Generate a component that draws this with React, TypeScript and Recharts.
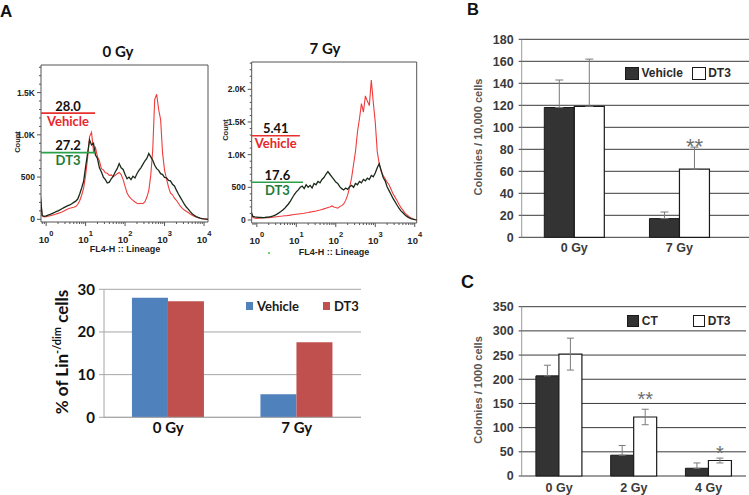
import React from 'react';
import {
  LineChart,
  Line,
  XAxis,
  YAxis,
  ReferenceArea,
  ReferenceLine,
  ReferenceDot,
  BarChart,
  Bar,
  CartesianGrid,
  ErrorBar,
  Legend,
  LabelList,
} from 'recharts';

const CALIBRI = 'Lato, "Open Sans", sans-serif';
const ARIAL = '"Liberation Sans", Arial, sans-serif';

// ---- Panel A: FL4-H (Lineage) histograms, log10 bins ----
const BINS = [
  -0.15, -0.1, -0.05, 0, 0.05, 0.1, 0.15, 0.2, 0.25, 0.3,
  0.35, 0.4, 0.45, 0.5, 0.55, 0.6, 0.65, 0.7, 0.75, 0.8,
  0.85, 0.9, 0.95, 1, 1.05, 1.1, 1.15, 1.2, 1.25, 1.3,
  1.35, 1.4, 1.45, 1.5, 1.55, 1.6, 1.65, 1.7, 1.75, 1.8,
  1.85, 1.9, 1.95, 2, 2.05, 2.1, 2.15, 2.2, 2.25, 2.3,
  2.35, 2.4, 2.45, 2.5, 2.55, 2.6, 2.65, 2.7, 2.75, 2.8,
  2.85, 2.9, 2.95, 3, 3.05, 3.1, 3.15, 3.2, 3.25, 3.3,
  3.35, 3.4, 3.45, 3.5, 3.55, 3.6, 3.65, 3.7, 3.75, 3.8,
  3.85, 3.9, 3.95, 4, 4.05, 4.1,
];

const VEHICLE_0GY = [
  280, 40, 28, 32, 36, 42, 48, 55, 62, 70,
  78, 86, 98, 110, 122, 130, 136, 142, 150, 175,
  220, 285, 370, 520, 720, 980, 1030, 800, 850, 740,
  690, 600, 585, 550, 545, 520, 525, 505, 520, 540,
  555, 530, 470, 390, 310, 270, 245, 225, 205, 190,
  185, 190, 185, 205, 260, 340, 520, 820, 1420, 1480,
  1300, 1180, 780, 580, 480, 380, 310, 290, 250, 225,
  190, 155, 130, 110, 95, 80, 62, 48, 36, 26,
  18, 12, 8, 4, 2, 0,
];

const DT3_0GY = [
  300, 45, 35, 40, 50, 58, 68, 78, 90, 100,
  112, 125, 138, 150, 162, 170, 185, 200, 215, 240,
  300, 370, 450, 620, 780, 940, 880, 900, 760, 720,
  610, 560, 500, 470, 430, 440, 480, 510, 560, 600,
  660, 610, 590, 530, 480, 500, 470, 510, 490, 540,
  580, 610, 650, 690, 720, 780, 740, 700, 640, 600,
  580, 540, 530, 495, 490, 460, 455, 415, 395, 345,
  300, 260, 220, 180, 145, 120, 90, 65, 48, 32,
  22, 14, 8, 4, 2, 0,
];

const VEHICLE_7GY = [
  130, 40, 28, 25, 27, 30, 32, 34, 35, 36,
  38, 42, 46, 50, 54, 58, 60, 64, 66, 70,
  75, 80, 84, 88, 92, 96, 100, 104, 110, 114,
  120, 126, 132, 138, 146, 152, 160, 170, 180, 190,
  198, 215, 200, 190, 180, 205, 220, 245, 300, 380,
  500, 640, 850, 1050, 1350, 1550, 1780, 1650, 1900, 1820,
  1750, 2140, 1800, 1500, 1050, 860, 740, 680, 630, 580,
  540, 470, 400, 350, 300, 240, 190, 150, 110, 80,
  55, 35, 20, 8, 2, 0,
];

const DT3_7GY = [
  130, 55, 48, 45, 40, 38, 36, 38, 42, 46,
  52, 60, 72, 87, 105, 125, 148, 175, 210, 245,
  290, 340, 390, 430, 460, 500, 520, 480, 540, 500,
  530, 490, 560, 540, 590, 570, 620, 650, 700, 740,
  700, 660, 620, 580, 560, 510, 480, 460, 490, 470,
  510, 530, 500, 560, 540, 590, 570, 620, 600, 640,
  620, 680, 660, 720, 800, 860, 760, 650, 600, 510,
  450, 390, 330, 280, 230, 180, 140, 110, 80, 55,
  36, 22, 12, 5, 2, 0,
];

const X_MIN = -0.13;
const DECADES = [0, 1, 2, 3, 4];
const Y_MAJOR_0GY = [0, 500, 1000, 1500];
const Y_LABELS_0GY = ['0', '500', '1.0K', '1.5K'];
const Y_MAJOR_7GY = [0, 500, 1000, 1500, 2000];
const Y_LABELS_7GY = ['0', '500', '1.0K', '1.5K', '2.0K'];

const GROUPS = ['Vehicle', 'DT3'];
const GATE_PCT_0GY = ['28.0', '27.2'];
const GATE_Y_0GY = [1257, 790];
const GATE_END_0GY = [1.24, 1.24];
const GATE_PCT_7GY = ['5.41', '17.6'];
const GATE_Y_7GY = [1290, 577];
const GATE_END_7GY = [1.09, 1.17];

// ---- Panel A: Lin-/dim summary ----
const DOSES_A = ['0 Gy', '7 Gy'];
const LIN_VEHICLE = [28.0, 5.41];
const LIN_DT3 = [27.2, 17.6];
const TICKS_A = [0, 10, 20, 30];

// ---- Panel B ----
const DOSES_B = ['0 Gy', '7 Gy'];
const B_VEHICLE = [118, 17];
const B_VEHICLE_ERR = [25, 6];
const B_DT3 = [119, 62];
const B_DT3_ERR = [43, 20];
const B_SIG = ['', '**'];
const B_SIG_AT = [0, 84];
const TICKS_B = [0, 20, 40, 60, 80, 100, 120, 140, 160, 180];

// ---- Panel C ----
const DOSES_C = ['0 Gy', '2 Gy', '4 Gy'];
const C_CT = [207, 43, 16];
const C_CT_ERR = [22, 20, 11];
const C_DT3 = [252, 122, 32];
const C_DT3_ERR = [33, 16, 5];
const C_SIG = ['', '**', '*'];
const C_SIG_AT = [0, 163, 50];
const TICKS_C = [0, 50, 100, 150, 200, 250, 300, 350];

// log axis: decades plus the 2..9 minors
const X_TICKS: number[] = [];
for (let d = -1; d < 4; d++) {
  for (let k = 1; k < 10; k++) {
    const v = d + Math.log10(k);
    if (v >= X_MIN) X_TICKS.push(v);
  }
}
X_TICKS.push(4);

function countTicks(max: number) {
  const out: number[] = [];
  for (let v = 0; v <= max; v += 100) out.push(v);
  return out;
}

function HistYTick(props: any) {
  const { x, y, payload, majors, labels } = props;
  const i = majors.indexOf(payload.value);
  return (
    <g>
      <line x1={x} x2={x - (i >= 0 ? 4 : 2)} y1={y} y2={y} stroke='#555' />
      {i >= 0 && (
        <text x={x - 6} y={y + 3} textAnchor='end' fontFamily={ARIAL} fontSize={8.5} fontWeight={700} fill='#222'>
          {labels[i]}
        </text>
      )}
    </g>
  );
}

function HistXTick(props: any) {
  const { x, y, payload } = props;
  const d = DECADES.indexOf(payload.value);
  return (
    <g>
      <line x1={x} x2={x} y1={y} y2={y + (d >= 0 ? 4 : 2)} stroke='#555' />
      {d >= 0 && (
        <text x={x} y={y + 21} textAnchor='middle' fontFamily={ARIAL} fontWeight={700} fill='#222'>
          <tspan fontSize={9.5}>10</tspan>
          <tspan fontSize={7.5} dy={-7}>{DECADES[d]}</tspan>
        </text>
      )}
    </g>
  );
}

function GateText(props: any) {
  const { cx, cy, pct, name, color } = props;
  return (
    <g fontFamily={CALIBRI} fontWeight={700} fontSize={13} textAnchor='middle'>
      <text x={cx} y={cy - 2.5} fill='#111'>{pct}</text>
      <text x={cx} y={cy + 12.5} fill={color}>{name}</text>
    </g>
  );
}

const GATE_LINE = ['#e8312f', '#2aa24a'];
const GATE_TEXT = ['#e8262b', '#1e7b3a'];

function FlowHistogram(props: any) {
  const { left, top, width, height, margin, vehicle, dt3, xMax, yDomain, yMajors, yLabels, gatePct, gateY, gateEnd } = props;
  const rows = BINS.map((x, i) => ({ x, vehicle: vehicle[i], dt3: dt3[i] }));
  return (
    <div style={{ position: 'absolute', left, top }}>
      <LineChart width={width} height={height} data={rows} margin={margin}>
        <XAxis
          type='number'
          dataKey='x'
          domain={[X_MIN, xMax]}
          allowDataOverflow
          ticks={X_TICKS}
          interval={0}
          tickSize={0}
          tickMargin={0}
          axisLine={false}
          height={30}
          tick={<HistXTick />}
        />
        <YAxis
          type='number'
          domain={yDomain}
          allowDataOverflow
          ticks={countTicks(yDomain[1])}
          interval={0}
          tickSize={0}
          tickMargin={0}
          axisLine={false}
          width={30}
          tick={<HistYTick majors={yMajors} labels={yLabels} />}
        />
        <ReferenceArea x1={X_MIN} x2={xMax} y1={yDomain[0]} y2={yDomain[1]} fill='none' stroke='#555' ifOverflow='visible' />
        <Line type='linear' dataKey='vehicle' stroke='#f03c3c' strokeWidth={1.1} dot={false} isAnimationActive={false} />
        <Line type='linear' dataKey='dt3' stroke='#1a2a1a' strokeWidth={1.3} dot={false} isAnimationActive={false} />
        {GROUPS.map((g, i) => (
          <ReferenceLine
            key={'gl' + g}
            segment={[{ x: X_MIN, y: gateY[i] }, { x: gateEnd[i], y: gateY[i] }]}
            stroke={GATE_LINE[i]}
            strokeWidth={1.6}
          />
        ))}
        {GROUPS.map((g, i) => (
          <ReferenceDot
            key={'gt' + g}
            x={(X_MIN + gateEnd[i]) / 2}
            y={gateY[i]}
            r={0}
            shape={(p: any) => <GateText cx={p.cx} cy={p.cy} pct={gatePct[i]} name={g} color={GATE_TEXT[i]} />}
          />
        ))}
      </LineChart>
    </div>
  );
}

function SwatchLegend(props: any) {
  const { items, itemWidth, swatchW, swatchH, gap, font, fontSize, color } = props;
  return (
    <div style={{ display: 'flex', alignItems: 'center', fontFamily: font, fontSize, fontWeight: 700, color, lineHeight: 1, whiteSpace: 'nowrap' }}>
      {items.map((it: any) => (
        <div key={it.label} style={{ display: 'flex', alignItems: 'center', width: itemWidth }}>
          <span
            style={{
              display: 'inline-block',
              width: swatchW,
              height: swatchH,
              background: it.fill,
              border: it.border ? `1px solid ${it.border}` : 'none',
              boxSizing: 'border-box',
              marginRight: gap,
            }}
          />
          <span>{it.label}</span>
        </div>
      ))}
    </div>
  );
}

function StarLabel(props: any) {
  const { index, values, sigs, sigAt, fontSize } = props;
  const vb = props.viewBox && props.viewBox.width != null ? props.viewBox : props;
  const s = sigs[index];
  if (!s) return null;
  const perUnit = vb.height / values[index];
  const bottom = vb.y + vb.height - sigAt[index] * perUnit;
  return (
    <text x={vb.x + vb.width / 2} y={bottom + 0.42 * fontSize} textAnchor='middle' fontFamily={ARIAL} fontSize={fontSize} fill='#6e6e6e'>
      {s}
    </text>
  );
}

const BW_TICK = { fontFamily: ARIAL, fontSize: 12.5, fontWeight: 700, fill: '#3a3a3a' };

function LinSummary() {
  const rows = DOSES_A.map((dose, i) => ({ dose, vehicle: LIN_VEHICLE[i], dt3: LIN_DT3[i] }));
  const tick = { fontFamily: CALIBRI, fontSize: 15, fontWeight: 700, fill: '#111' };
  return (
    <div style={{ position: 'absolute', left: 0, top: 270 }}>
      <BarChart width={370} height={175} data={rows} margin={{ top: 19.3, right: 9, bottom: 2.7, left: 64 }} barCategoryGap='21.75%' barGap={0}>
        <CartesianGrid vertical={false} stroke='#a6a6a6' />
        <XAxis dataKey='dose' height={25} axisLine={{ stroke: '#a6a6a6' }} tickLine={false} tickSize={0} tickMargin={5} tick={tick} />
        <YAxis width={40} domain={[0, 30]} ticks={TICKS_A} interval={0} axisLine={{ stroke: '#a6a6a6' }} tickLine={{ stroke: '#a6a6a6' }} tickSize={5} tickMargin={4} tick={tick} />
        <Bar dataKey='vehicle' fill='#4f81bd' isAnimationActive={false} />
        <Bar dataKey='dt3' fill='#c0504d' isAnimationActive={false} />
        <Legend
          layout='horizontal'
          verticalAlign='middle'
          align='center'
          wrapperStyle={{ left: 246, top: 29.5, width: 'auto' }}
          content={() => (
            <SwatchLegend
              items={[{ label: 'Vehicle', fill: '#4f81bd' }, { label: 'DT3', fill: '#c0504d' }]}
              itemWidth={77}
              swatchW={7}
              swatchH={8}
              gap={4}
              font={CALIBRI}
              fontSize={13}
              color='#1a1a1a'
            />
          )}
        />
      </BarChart>
    </div>
  );
}

function ColonyChart(props: any) {
  const { left, top, width, height, margin, doses, ctl, ctlErr, dt3, dt3Err, ctlName, sigs, sigAt, yMax, ticks, gap, padRight, xHeight, tickMargin, errW, lowerDt3, legendPos, swatch, itemWidth, starSize, ctlOneSided } = props;
  const rows = doses.map((dose: string, i: number) => ({
    dose,
    ctl: ctl[i],
    dt3: dt3[i],
    ctlErr: ctlOneSided ? [0, ctlErr[i]] : ctlErr[i],
    dt3Err: lowerDt3 ? dt3Err[i] : [0, dt3Err[i]],
    sig: sigs[i],
  }));
  return (
    <div style={{ position: 'absolute', left, top }}>
      <BarChart width={width} height={height} data={rows} margin={margin} barCategoryGap={gap} barGap={0}>
        <CartesianGrid vertical={false} stroke='#3a3a3a' />
        <XAxis dataKey='dose' height={xHeight} padding={{ left: 0, right: padRight }} axisLine={false} tickLine={false} tickSize={0} tickMargin={tickMargin} tick={BW_TICK} />
        <YAxis width={40} domain={[0, yMax]} ticks={ticks} interval={0} axisLine={{ stroke: '#999' }} tickLine={{ stroke: '#3a3a3a' }} tickSize={3} tickMargin={5} tick={BW_TICK} />
        <Bar dataKey='ctl' fill='#333' stroke='#1a1a1a' isAnimationActive={false}>
          <ErrorBar dataKey='ctlErr' width={errW} stroke='#7a7a7a' strokeWidth={1} direction='y' />
        </Bar>
        <Bar dataKey='dt3' fill='#fff' stroke='#1a1a1a' strokeWidth={1.2} isAnimationActive={false}>
          <ErrorBar dataKey='dt3Err' width={errW} stroke='#7a7a7a' strokeWidth={1} direction='y' />
          <LabelList dataKey='sig' content={<StarLabel values={dt3} sigs={sigs} sigAt={sigAt} fontSize={starSize} />} />
        </Bar>
        <Legend
          layout='horizontal'
          verticalAlign='middle'
          align='center'
          wrapperStyle={{ left: legendPos[0], top: legendPos[1], width: 'auto' }}
          content={() => (
            <SwatchLegend
              items={[
                { label: ctlName, fill: '#333', border: '#1a1a1a' },
                { label: 'DT3', fill: '#fff', border: '#1a1a1a' },
              ]}
              itemWidth={itemWidth}
              swatchW={swatch[0]}
              swatchH={swatch[1]}
              gap={2.5}
              font={ARIAL}
              fontSize={12}
              color='#2a2a2a'
            />
          )}
        />
      </BarChart>
    </div>
  );
}

function Annotations() {
  return (
    <svg width={749} height={495} style={{ position: 'absolute', left: 0, top: 0, pointerEvents: 'none' }}>
      <g fontFamily={ARIAL} fontWeight={700} fill='#111'>
        <text x={0} y={17} fontSize={17}>A</text>
        <text x={467} y={15} fontSize={16.5}>B</text>
        <text x={461} y={288} fontSize={18}>C</text>
      </g>
      <g fontFamily={CALIBRI} fontWeight={700} fontSize={15} fill='#111' textAnchor='middle'>
        <text x={118} y={57}>0 Gy</text>
        <text x={325} y={54}>7 Gy</text>
      </g>
      <g fontFamily={ARIAL} fontWeight={700} fill='#222' textAnchor='middle'>
        <text x={20} y={142} fontSize={7.5} transform='rotate(-90 20 142)'>Count</text>
        <text x={227.5} y={130} fontSize={7.5} transform='rotate(-90 227.5 130)'>Count</text>
        <text x={125} y={252} fontSize={9}>FL4-H :: Lineage</text>
        <text x={334} y={255} fontSize={9}>FL4-H :: Lineage</text>
      </g>
      <circle cx={269} cy={253} r={1} fill='#3c3' />
      <text x={68} y={352} transform='rotate(-90 68 352)' textAnchor='middle' fontFamily={CALIBRI} fontWeight={700} fontSize={17} fill='#111'>
        % of Lin<tspan fontSize={11} dy={-7}>-/dim</tspan>
        <tspan dy={7}>{' cells'}</tspan>
      </text>
      <g fontFamily={ARIAL} fontWeight={700} fontSize={11} fill='#555' textAnchor='middle'>
        <text x={482} y={137} transform='rotate(-90 482 137)'>Colonies / 10,000 cells</text>
        <text x={482} y={390} transform='rotate(-90 482 390)'>Colonies / 1000 cells</text>
      </g>
    </svg>
  );
}

export default function App() {
  return (
    <div style={{ position: 'absolute', left: 0, top: 0, width: 749, height: 495, background: '#fff', overflow: 'hidden' }}>
      <FlowHistogram
        left={0}
        top={0}
        width={220}
        height={260}
        margin={{ top: 65, right: 12, bottom: 8, left: 11 }}
        vehicle={VEHICLE_0GY}
        dt3={DT3_0GY}
        xMax={4.1}
        yDomain={[-32, 1827]}
        yMajors={Y_MAJOR_0GY}
        yLabels={Y_LABELS_0GY}
        gatePct={GATE_PCT_0GY}
        gateY={GATE_Y_0GY}
        gateEnd={GATE_END_0GY}
      />
      <FlowHistogram
        left={220}
        top={0}
        width={205}
        height={260}
        margin={{ top: 62, right: 8.3, bottom: 7, left: 1.7 }}
        vehicle={VEHICLE_7GY}
        dt3={DT3_7GY}
        xMax={4.05}
        yDomain={[-46, 2418]}
        yMajors={Y_MAJOR_7GY}
        yLabels={Y_LABELS_7GY}
        gatePct={GATE_PCT_7GY}
        gateY={GATE_Y_7GY}
        gateEnd={GATE_END_7GY}
      />
      <LinSummary />
      <ColonyChart
        left={470}
        top={20}
        width={279}
        height={240}
        margin={{ top: 19.3, right: 0, bottom: 2.7, left: 11.7 }}
        doses={DOSES_B}
        ctl={B_VEHICLE}
        ctlErr={B_VEHICLE_ERR}
        dt3={B_DT3}
        dt3Err={B_DT3_ERR}
        ctlName='Vehicle'
        sigs={B_SIG}
        sigAt={B_SIG_AT}
        yMax={180}
        ticks={TICKS_B}
        gap='21.5%'
        padRight={17}
        xHeight={20}
        tickMargin={6}
        errW={4}
        lowerDt3={false}
        ctlOneSided
        legendPos={[155, 46.7]}
        swatch={[14, 13]}
        itemWidth={66.7}
        starSize={22}
      />
      <ColonyChart
        left={470}
        top={270}
        width={279}
        height={225}
        margin={{ top: 36.7, right: 3, bottom: 3, left: 11.7 }}
        doses={DOSES_C}
        ctl={C_CT}
        ctlErr={C_CT_ERR}
        dt3={C_DT3}
        dt3Err={C_DT3_ERR}
        ctlName='CT'
        sigs={C_SIG}
        sigAt={C_SIG_AT}
        yMax={350}
        ticks={TICKS_C}
        gap='19%'
        padRight={0}
        xHeight={16}
        tickMargin={7}
        errW={3.5}
        lowerDt3
        ctlOneSided
        legendPos={[156.7, 45]}
        swatch={[12.6, 11.7]}
        itemWidth={66}
        starSize={20}
      />
      <Annotations />
    </div>
  );
}
